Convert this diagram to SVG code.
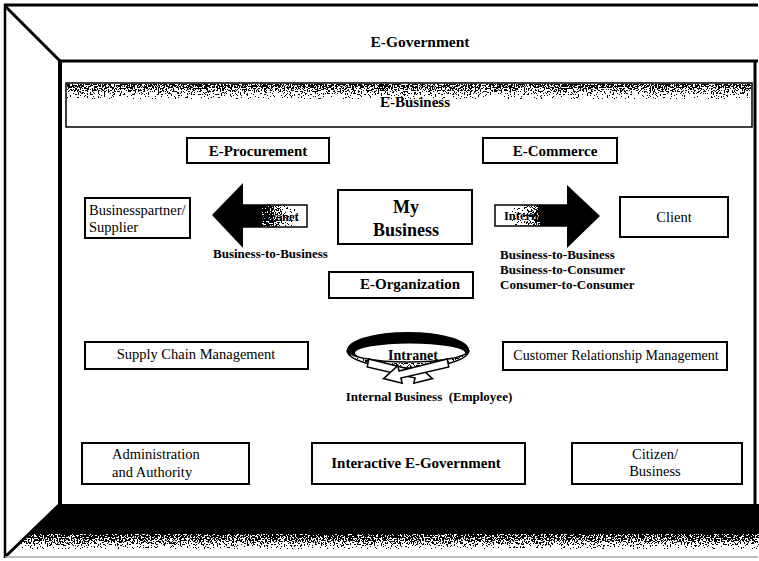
<svg xmlns="http://www.w3.org/2000/svg" width="759" height="561" viewBox="0 0 759 561">
<style>
.bx{fill:#fff;stroke:#000;stroke-width:2}
.t{font-family:"Liberation Serif","Times New Roman",serif;fill:#000}
.b{font-weight:bold}
.frame{stroke:#000;fill:none}
</style>
<defs>
<filter id="grain" x="0" y="0" width="1" height="1" color-interpolation-filters="sRGB">
<feTurbulence type="fractalNoise" baseFrequency="0.7" numOctaves="2" seed="4" result="t"/>
<feColorMatrix in="t" type="matrix" values="0 0 0 0 0  0 0 0 0 0  0 0 0 0 0  1 0 0 0 0" result="na"/>
<feComposite in="na" in2="SourceGraphic" operator="arithmetic" k1="0" k2="1" k3="1" k4="-0.9" result="sum"/>
<feComponentTransfer in="sum" result="th"><feFuncA type="discrete" tableValues="0 1"/></feComponentTransfer>
<feFlood flood-color="#000"/>
<feComposite in2="th" operator="in"/>
</filter>
<linearGradient id="fadeDown" x1="0" y1="0" x2="0" y2="1">
<stop offset="0" stop-color="#000" stop-opacity="1"/>
<stop offset="0.5" stop-color="#000" stop-opacity="0.9"/>
<stop offset="1" stop-color="#000" stop-opacity="0.72"/>
</linearGradient>
<linearGradient id="fadeBand" x1="0" y1="0" x2="0" y2="1">
<stop offset="0" stop-color="#000" stop-opacity="0.97"/>
<stop offset="0.4" stop-color="#000" stop-opacity="0.87"/>
<stop offset="1" stop-color="#000" stop-opacity="0.7"/>
</linearGradient>
<linearGradient id="fadeRight" x1="0" y1="0" x2="1" y2="0">
<stop offset="0" stop-color="#000" stop-opacity="1"/>
<stop offset="0.45" stop-color="#000" stop-opacity="1"/>
<stop offset="0.75" stop-color="#000" stop-opacity="0.82"/>
<stop offset="1" stop-color="#000" stop-opacity="0.7"/>
</linearGradient>
<linearGradient id="fadeLeft" x1="0" y1="0" x2="1" y2="0">
<stop offset="0" stop-color="#000" stop-opacity="0.7"/>
<stop offset="0.3" stop-color="#000" stop-opacity="0.85"/>
<stop offset="0.55" stop-color="#000" stop-opacity="1"/>
<stop offset="1" stop-color="#000" stop-opacity="1"/>
</linearGradient>
<linearGradient id="gray" x1="0" y1="0" x2="0" y2="1">
<stop offset="0" stop-color="#000" stop-opacity="0.86"/>
<stop offset="1" stop-color="#000" stop-opacity="0.86"/>
</linearGradient>
</defs>

<g id="frame">
<rect x="0" y="0" width="759" height="561" fill="#fff"/>
<line class="frame" x1="4" y1="5" x2="758" y2="5" stroke-width="3"/>
<line class="frame" x1="5" y1="4" x2="5" y2="558" stroke-width="2.5"/>
<line class="frame" x1="6" y1="7" x2="60" y2="61" stroke-width="3"/>
<line class="frame" x1="58" y1="61" x2="758" y2="61" stroke-width="3"/>
<line class="frame" x1="60" y1="60" x2="60" y2="505" stroke-width="4"/>
<line class="frame" x1="755" y1="60" x2="755" y2="505" stroke-width="3"/>
<polygon points="60,504 759,504 759,534 29,534" fill="#000"/>
<polygon points="30,533 759,533 759,549 16,549" fill="url(#fadeDown)" filter="url(#grain)"/>
<line class="frame" x1="60" y1="504" x2="5" y2="557" stroke-width="3"/>
<line x1="5" y1="557" x2="758" y2="557" stroke="#aaa" stroke-width="1.5"/>
<text class="t b" x="420" y="47" font-size="15.5" text-anchor="middle">E-Government</text>
</g>

<g id="e-business">
<rect x="66" y="83" width="686" height="44" fill="#fff" stroke="#000" stroke-width="1.5"/>
<rect x="67" y="84" width="684" height="15" fill="url(#fadeBand)" filter="url(#grain)"/>
<text class="t b" x="415" y="107" font-size="15" text-anchor="middle">E-Business</text>
</g>

<g id="e-procurement">
<rect class="bx" x="187" y="138" width="142" height="25"/>
<text class="t b" x="258" y="156" font-size="15" text-anchor="middle">E-Procurement</text>
</g>

<g id="e-commerce">
<rect class="bx" x="483" y="138" width="134" height="25"/>
<text class="t b" x="555" y="156" font-size="15" text-anchor="middle">E-Commerce</text>
</g>

<g id="supplier">
<rect class="bx" x="85" y="198" width="105" height="40"/>
<text class="t" x="89" y="215" font-size="14.5">Businesspartner/</text>
<text class="t" x="89" y="232" font-size="14.5">Supplier</text>
</g>

<g id="client">
<rect class="bx" x="620" y="197" width="108" height="40"/>
<text class="t" x="674" y="222" font-size="14.5" text-anchor="middle">Client</text>
</g>

<g id="my-business">
<rect class="bx" x="338" y="190" width="134" height="54"/>
<text class="t b" x="406" y="213" font-size="18" text-anchor="middle">My</text>
<text class="t b" x="406" y="236" font-size="18" text-anchor="middle">Business</text>
</g>

<g id="e-organization">
<rect class="bx" x="329" y="272" width="144" height="26"/>
<text class="t b" x="410" y="289" font-size="15" text-anchor="middle">E-Organization</text>
</g>

<g id="connectors">
<g id="extranet-arrow">
<rect x="242" y="205" width="65" height="22" fill="#fff" stroke="#000" stroke-width="1.5"/>
<text class="t b" x="275" y="221" font-size="12.5" text-anchor="middle">Extranet</text>
<rect x="242" y="205" width="56" height="22" fill="url(#fadeRight)" filter="url(#grain)"/>
<rect x="240" y="205" width="22" height="22" fill="#000"/>
<polygon points="243,183 212,215 243,248" fill="#000"/>
</g>
<g id="internet-arrow">
<rect x="495" y="205" width="73" height="21" fill="#fff" stroke="#000" stroke-width="1.5"/>
<text class="t b" x="504" y="220" font-size="12.5">Internet</text>
<rect x="512" y="205" width="56" height="21" fill="url(#fadeLeft)" filter="url(#grain)"/>
<rect x="540" y="205" width="30" height="21" fill="#000"/>
<polygon points="567,185 600,216 567,248" fill="#000"/>
</g>
<text class="t b" x="213" y="258" font-size="13">Business-to-Business</text>
<text class="t b" x="500" y="259" font-size="13">Business-to-Business</text>
<text class="t b" x="500" y="274" font-size="13">Business-to-Consumer</text>
<text class="t b" x="500" y="289" font-size="13">Consumer-to-Consumer</text>
</g>

<g id="supply-chain">
<rect class="bx" x="85" y="342" width="223" height="27"/>
<text class="t" x="196" y="359" font-size="14.5" text-anchor="middle">Supply Chain Management</text>
</g>

<g id="intranet">
<ellipse cx="408" cy="350" rx="61" ry="18" fill="#000"/>
<ellipse cx="410" cy="353" rx="55" ry="9.5" fill="#fff"/>
<path d="M347,350 A61,18 0 0 0 469,350 A61,12 0 0 1 347,350 Z" fill="#fff" stroke="#000" stroke-width="1.5"/>
<path d="M349,351 A59,16 0 0 0 467,351 A59,12 0 0 1 349,351 Z" fill="url(#gray)" filter="url(#grain)"/>
<polygon points="368.8,359 416.9,371.1 418.2,365.7 432.5,378.6 413.8,383.3 415.1,378 367.2,367" fill="#fff" stroke="#000" stroke-width="1.5"/>
<polygon points="447.2,359 399.1,371.1 397.8,365.7 383.5,378.6 402.2,383.3 400.9,378 448.8,367" fill="#fff" stroke="#000" stroke-width="1.5"/>
<text class="t b" x="413" y="360" font-size="14" text-anchor="middle">Intranet</text>
<text class="t b" x="429" y="401" font-size="13" text-anchor="middle" xml:space="preserve">Internal Business  (Employee)</text>
</g>

<g id="crm">
<rect class="bx" x="503" y="342" width="224" height="28"/>
<text class="t" x="616" y="360" font-size="14" text-anchor="middle">Customer Relationship Management</text>
</g>

<g id="administration">
<rect class="bx" x="82" y="443" width="167" height="41"/>
<text class="t" x="112" y="459" font-size="14.5">Administration</text>
<text class="t" x="112" y="477" font-size="14.5">and Authority</text>
</g>

<g id="interactive">
<rect class="bx" x="312" y="443" width="213" height="41"/>
<text class="t b" x="416" y="468" font-size="15" text-anchor="middle">Interactive E-Government</text>
</g>

<g id="citizen">
<rect class="bx" x="572" y="443" width="170" height="41"/>
<text class="t" x="655" y="459" font-size="14.5" text-anchor="middle">Citizen/</text>
<text class="t" x="655" y="476" font-size="14.5" text-anchor="middle">Business</text>
</g>
</svg>
